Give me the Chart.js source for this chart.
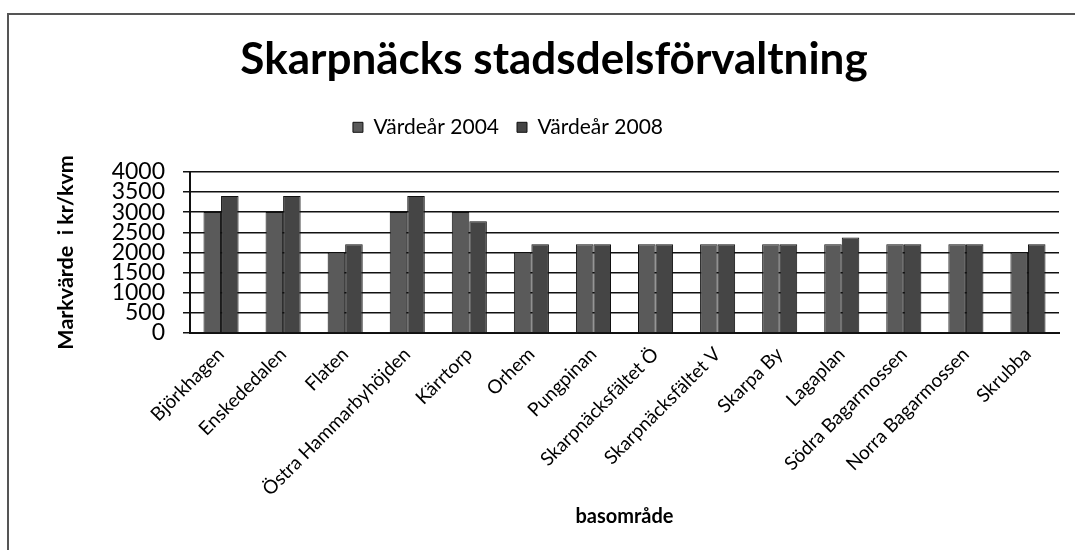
<!DOCTYPE html>
<html>
<head>
<meta charset="utf-8">
<script src="https://cdn.jsdelivr.net/npm/chart.js@4/dist/chart.umd.min.js"></script>
<style>
  body { margin: 0; background: #fff; }
  #wrap { position: relative; width: 1075px; height: 550px; }
  #frame { position: absolute; left: 7px; top: 13px; right: 0; bottom: 0; border-left: 2px solid #555; border-top: 2px solid #555; pointer-events: none; }
</style>
</head>
<body>
<div id="wrap">
  <canvas id="bar-chart" width="1075" height="550"></canvas>
  <div id="frame"></div>
</div>
<script>
// basområden
const omraden = ['Björkhagen', 'Enskededalen', 'Flaten', 'Östra Hammarbyhöjden', 'Kärrtorp', 'Orhem',
  'Pungpinan', 'Skarpnäcksfältet Ö', 'Skarpnäcksfältet V', 'Skarpa By', 'Lagaplan',
  'Södra Bagarmossen', 'Norra Bagarmossen', 'Skrubba'];

// markvärde kr/kvm
const varde2004 = [3000, 3000, 2000, 3000, 3000, 2000, 2200, 2200, 2200, 2200, 2200, 2200, 2200, 2000];
const varde2008 = [3400, 3400, 2200, 3400, 2770, 2200, 2200, 2200, 2200, 2200, 2370, 2200, 2200, 2200];

const yMin = 0;
const yMax = 4000;
const yStep = 500;

const font = 'Lato, "Open Sans", sans-serif';

// flytta förklaringen lite åt vänster (som i originalet)
const legendShift = {
  id: 'legendShift',
  afterLayout(chart) {
    const lg = chart.legend;
    if (lg) { lg.left -= 46; lg.right -= 46; }
  }
};

const ctx = document.getElementById('bar-chart').getContext('2d');

const myChart = new Chart(ctx, {
  type: 'bar',
  data: {
    labels: omraden,
    datasets: [{
      label: 'Värdeår 2004',
      data: varde2004,
      backgroundColor: '#5a5a5a',
      borderColor: '#111',
      borderWidth: 1
    }, {
      label: 'Värdeår 2008',
      data: varde2008,
      backgroundColor: '#454545',
      borderColor: '#111',
      borderWidth: 1
    }]
  },
  options: {
    responsive: false,
    animation: false,
    categoryPercentage: 0.565,
    barPercentage: 1.0,
    layout: { padding: { top: 20, left: 49, right: 16, bottom: 17 } },
    plugins: {
      title: {
        display: true,
        text: 'Skarpnäcks stadsdelsförvaltning',
        color: '#000',
        font: { family: font, size: 44, weight: 'bold' },
        padding: { top: 13, bottom: 13 }
      },
      subtitle: {
        // tomt mellanrum mellan förklaring och diagramyta
        display: true,
        text: '',
        position: 'top',
        weight: 500,
        font: { size: 10, lineHeight: 1 },
        padding: { top: 0, bottom: 14 }
      },
      legend: {
        position: 'top',
        labels: {
          color: '#000',
          font: { family: font, size: 21 },
          boxWidth: 10,
          boxHeight: 10,
          padding: 18
        }
      },
      tooltip: { enabled: false }
    },
    scales: {
      x: {
        grid: { display: false },
        border: { display: true, color: '#111', width: 2 },
        ticks: {
          color: '#000',
          font: { family: font, size: 19 },
          minRotation: 45,
          maxRotation: 45,
          autoSkip: false,
          padding: 2
        },
        title: {
          display: true,
          text: 'basområde',
          color: '#000',
          font: { family: font, size: 20, weight: 'bold' },
          padding: { top: 4, bottom: 4 }
        },
        afterFit: (scale) => { scale.height = 200; }
      },
      y: {
        min: yMin,
        max: yMax,
        grid: { color: '#111', lineWidth: 1.5, tickLength: 7 },
        border: { display: true, color: '#111', width: 2 },
        ticks: {
          stepSize: yStep,
          autoSkip: false,
          color: '#000',
          font: { family: font, size: 23, lineHeight: 1 },
          padding: 18,
          callback: (v) => String(v)
        },
        title: {
          display: true,
          text: 'Markvärde  i kr/kvm',
          color: '#000',
          font: { family: font, size: 21.5, weight: 'bold' },
          padding: { top: 4, bottom: 4 }
        },
        afterFit: (scale) => { scale.width = 141; }
      }
    }
  },
  plugins: [legendShift]
});
</script>
</body>
</html>
